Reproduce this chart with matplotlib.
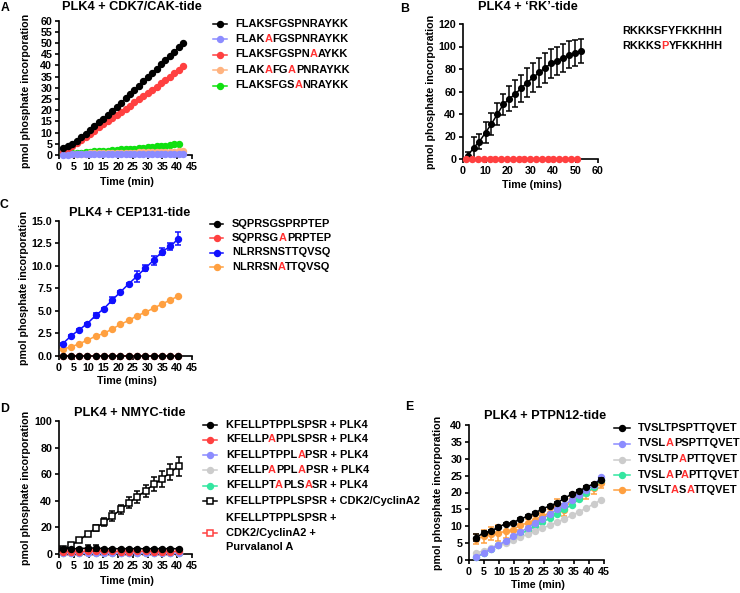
import matplotlib
matplotlib.use("Agg")
import matplotlib.pyplot as plt
from matplotlib.lines import Line2D
from matplotlib.font_manager import FontProperties

plt.rcParams['font.family'] = ['Liberation Sans', 'DejaVu Sans']
plt.rcParams['font.weight'] = 'bold'

W, H = 740, 593
RED_TXT = '#ff3030'
LEG = 7.9    # legend text size
LAB = 7.7    # axis label size
TTL = 9.2    # title size

# ---- Panel A: PLK4 + CDK7/CAK-tide
a_time = [1.5, 3.0, 4.5, 6.0, 7.5, 9.0, 10.5, 12.0, 13.5, 15.0, 16.5, 18.0, 19.5, 21.0,
          22.5, 24.0, 25.5, 27.0, 28.5, 30.0, 31.5, 33.0, 34.5, 36.0, 37.5, 39.0, 40.5, 42.0]
a_wt = [3.0, 3.8, 5.0, 6.4, 7.9, 9.5, 11.2, 12.9, 14.6, 16.3, 18.0, 19.7, 21.5, 23.4,
        25.3, 27.2, 29.1, 31.0, 32.9, 34.8, 36.7, 38.6, 40.5, 42.4, 44.3, 46.2, 48.1, 50.0]
a_s5a = [0.2, 0.2, 0.3, 0.3, 0.3, 0.3, 0.3, 0.4, 0.4, 0.4, 0.4, 0.4, 0.4, 0.4,
         0.5, 0.5, 0.5, 0.5, 0.5, 0.5, 0.5, 0.5, 0.5, 0.6, 0.6, 0.6, 0.6, 0.6]
a_r11a = [1.5, 2.6, 3.9, 5.3, 6.7, 8.1, 9.5, 10.9, 12.3, 13.7, 15.1, 16.5, 17.9, 19.3,
          20.7, 22.1, 23.5, 24.9, 26.3, 27.7, 29.1, 30.5, 32.0, 33.5, 35.0, 36.5, 38.0, 39.6]
a_s5a_s8a = [0.3, 0.4, 0.5, 0.5, 0.6, 0.6, 0.7, 0.7, 0.8, 0.8, 0.9, 0.9, 1.0, 1.0,
             1.0, 1.1, 1.1, 1.2, 1.2, 1.2, 1.3, 1.3, 1.4, 1.4, 1.5, 1.5, 1.6, 1.6]
a_p9a = [0.4, 0.6, 0.8, 1.0, 1.1, 1.3, 1.4, 1.6, 1.7, 1.9, 2.0, 2.2, 2.3, 2.5,
         2.6, 2.8, 2.9, 3.1, 3.3, 3.4, 3.6, 3.8, 4.0, 4.2, 4.4, 4.7, 5.0]
a_labels = ['FLAKSFGSPNRAYKK', 'FLAKAFGSPNRAYKK', 'FLAKSFGSPNAAYKK', 'FLAKAFGAPNRAYKK', 'FLAKSFGSANRAYKK']
a_red = [[], [4], [10], [4, 7], [8]]
a_colors = ['black', '#8c8cff', '#ff4040', '#ffb380', '#10e010']

# ---- Panel B: PLK4 + 'RK'-tide
b_time = [2.0, 4.7, 7.3, 10.0, 12.6, 15.3, 17.9, 20.6, 23.3, 25.9,
          28.6, 31.2, 33.9, 36.5, 39.2, 41.8, 44.5, 47.2, 49.8, 52.5]
b_wt = [2.5, 10.0, 15.5, 23.5, 31.0, 40.0, 48.5, 53.5, 58.0, 63.0,
        68.0, 72.5, 77.0, 81.0, 85.0, 87.5, 90.0, 92.5, 94.0, 96.0]
b_wt_err = [3.5, 10.0, 7.0, 9.0, 9.5, 10.0, 9.5, 11.0, 12.0, 12.0,
            12.5, 13.0, 13.0, 13.0, 13.0, 12.5, 12.5, 12.0, 11.5, 11.0]
b_mut_time = [1.5, 4.1, 6.7, 9.2, 11.8, 14.4, 17.0, 19.6, 22.1, 24.7,
              27.3, 29.9, 32.5, 35.0, 37.6, 40.2, 42.8, 45.4, 47.9, 50.5]
b_mut = [0.0, 0.0, 0.0, 0.0, 0.0, 0.0, 0.0, 0.0, 0.0, 0.0,
         0.0, 0.0, 0.0, 0.0, 0.0, 0.0, 0.0, 0.0, 0.0, 0.0]
b_labels = ['RKKKSFYFKKHHH', 'RKKKSPYFKKHHH']
b_red = [[], [5]]

# ---- Panel C: PLK4 + CEP131-tide
c_time = [1.2, 4.0, 6.8, 9.6, 12.4, 15.2, 18.0, 20.8, 23.6, 26.4, 29.2, 32.0, 34.8, 37.6, 40.4]
c_s1 = [0.0, 0.0, 0.0, 0.0, 0.0, 0.0, 0.0, 0.0, 0.0, 0.0, 0.0, 0.0, 0.0, 0.0, 0.0]
c_s1_mut = [0.0, 0.0, 0.0, 0.0, 0.0, 0.0, 0.0, 0.0, 0.0, 0.0, 0.0, 0.0, 0.0, 0.0, 0.0]
c_s2 = [1.35, 2.2, 2.9, 3.6, 4.5, 5.25, 6.2, 7.1, 8.0, 8.85, 9.75, 10.6, 11.55, 12.15, 13.0]
c_s2_err = [0.1, 0.1, 0.1, 0.1, 0.3, 0.1, 0.3, 0.1, 0.1, 0.6, 0.35, 0.5, 0.4, 0.4, 0.7]
c_s2_mut = [0.75, 1.0, 1.35, 1.75, 2.2, 2.5, 3.0, 3.5, 3.95, 4.45, 4.85, 5.3, 5.75, 6.2, 6.65]
c_labels = ['SQPRSGSPRPTEP', 'SQPRSGAPRPTEP', 'NLRRSNSTTQVSQ', 'NLRRSNATTQVSQ']
c_red = [[], [6], [], [6]]
c_colors = ['black', '#ff4040', '#1010ff', '#ffa040']

# ---- Panel D: PLK4 + NMYC-tide
d_time = [1.3, 4.1, 6.9, 9.7, 12.5, 15.3, 18.1, 20.9, 23.7, 26.5, 29.3, 32.1, 34.9, 37.7, 40.5]
d_wt = [4.0, 4.0, 4.0, 4.5, 4.5, 4.0, 4.0, 4.0, 4.0, 4.0, 4.0, 4.0, 4.0, 4.0, 4.0]
d_wt_err = [0.5, 0.5, 0.5, 2.0, 2.0, 0.5, 0.5, 0.5, 0.5, 0.5, 0.5, 0.5, 0.5, 0.5, 0.5]
d_t7a = [1.5, 1.8, 1.8, 2.0, 2.0, 2.0, 2.0, 1.8, 1.8, 2.0, 2.0, 1.8, 1.8, 1.8, 2.0]
d_s11a = [0.4, 0.5, 0.5, 0.5, 0.5, 0.5, 0.5, 0.5, 0.5, 0.5, 0.5, 0.5, 0.5, 0.5, 0.5]
d_t7a_s11a = [0.9, 1.0, 1.0, 1.0, 1.0, 1.0, 1.0, 1.0, 1.0, 1.0, 1.0, 1.0, 1.0, 1.0, 1.0]
d_p8a_p12a = [0.8, 0.9, 0.9, 1.0, 1.0, 1.0, 1.0, 1.0, 1.0, 1.0, 1.0, 1.0, 1.0, 1.0, 1.0]
d_cdk2 = [3.5, 6.5, 10.5, 15.0, 19.5, 24.0, 28.5, 33.5, 38.5, 43.0, 47.5, 52.5, 56.5, 61.5, 66.0]
d_cdk2_err = [1.0, 1.5, 1.5, 1.5, 2.0, 3.0, 3.5, 3.5, 4.0, 4.5, 4.5, 5.5, 6.0, 6.0, 7.0]
d_purv = [1.2, 1.3, 1.3, 1.4, 1.4, 1.4, 1.4, 1.4, 1.4, 1.4, 1.4, 1.4, 1.4, 1.4, 1.4]
d_labels = ['KFELLPTPPLSPSR + PLK4', 'KFELLPAPPLSPSR + PLK4', 'KFELLPTPPLAPSR + PLK4',
            'KFELLPAPPLAPSR + PLK4', 'KFELLPTAPLSASR + PLK4', 'KFELLPTPPLSPSR + CDK2/CyclinA2']
d_red = [[], [6], [10], [6, 10], [7, 11], []]
d_last_label = ['KFELLPTPPLSPSR +', 'CDK2/CyclinA2 +', 'Purvalanol A']
d_colors = ['black', '#ff4040', '#8c8cff', '#cccccc', '#33e6a0', 'black', '#ff4040']

# ---- Panel E: PLK4 + PTPN12-tide
e_time = [2.4, 4.85, 7.3, 9.75, 12.2, 14.65, 17.1, 19.55, 22.0,
          24.45, 26.9, 29.35, 31.8, 34.25, 36.7, 39.15, 41.6, 44.05]
e_wt = [6.6, 8.1, 8.6, 9.7, 10.8, 11.1, 12.1, 13.0, 13.9,
        15.2, 16.0, 16.9, 18.3, 19.5, 20.4, 21.7, 22.5, 23.8]
e_wt_err = [1.0, 0.5, 0.4, 0.4, 0.3, 0.3, 0.3, 0.3, 0.3,
            0.3, 0.3, 0.3, 0.3, 0.3, 0.3, 0.3, 0.4, 0.5]
e_t5a = [0.8, 2.0, 3.3, 4.5, 5.6, 7.0, 8.2, 9.6, 11.0,
         12.2, 13.6, 15.0, 16.4, 17.8, 19.2, 20.6, 22.3, 24.5]
e_s7a = [2.0, 2.8, 3.5, 4.3, 5.0, 5.8, 6.7, 7.6, 8.5,
         9.4, 10.3, 11.2, 12.2, 13.2, 14.3, 15.4, 16.6, 17.8]
e_t5a_s7a = [0.9, 2.0, 3.2, 4.3, 5.4, 6.6, 7.7, 8.8, 10.0,
             11.2, 12.4, 13.6, 15.0, 16.4, 18.0, 19.8, 21.6, 23.8]
e_p6a_p8a = [6.3, 7.0, 7.8, 8.0, 8.5, 9.0, 10.3, 11.0, 12.0,
             13.0, 14.0, 16.5, 14.8, 18.2, 18.5, 20.0, 21.2, 22.7]
e_p6a_p8a_err = [1.5, 2.0, 2.0, 2.5, 2.0, 2.0, 1.5, 1.2, 1.0,
                 1.0, 1.0, 1.5, 1.8, 1.0, 1.0, 1.8, 1.5, 1.5]
e_labels = ['TVSLTPSPTTQVET', 'TVSLAPSPTTQVET', 'TVSLTPAPTTQVET', 'TVSLAPAPTTQVET', 'TVSLTASATTQVET']
e_red = [[], [4], [6], [4, 6], [5, 7]]
e_colors = ['black', '#8c8cff', '#cccccc', '#33e6a0', '#ffa040']

fig = plt.figure(figsize=(7.4, 5.93), dpi=100)
renderer = fig.canvas.get_renderer()


def px_axes(left, top, right, bottom):
    # box given in image pixels (origin top-left)
    return fig.add_axes([left / W, 1 - bottom / H, (right - left) / W, (bottom - top) / H])


def style(ax, xmax, xstep, ymax, ystep, yfmt=None):
    ax.set_xlim(0, xmax)
    ax.set_ylim(0, ymax)
    ax.set_xticks(range(0, xmax + 1, xstep))
    yt = [i * ystep for i in range(int(round(ymax / ystep)) + 1)]
    ax.set_yticks(yt)
    if yfmt:
        ax.set_yticklabels([yfmt.format(v) for v in yt])
    for s in ['top', 'right']:
        ax.spines[s].set_visible(False)
    for s in ['left', 'bottom']:
        ax.spines[s].set_linewidth(1.2)
    ax.tick_params(direction='out', length=3, width=1.2, labelsize=7.7, pad=1.8)
    for lab in ax.get_xticklabels() + ax.get_yticklabels():
        lab.set_fontweight('bold')


def series(ax, t, v, color, z, err=None, marker='o', mfc=None, ms=4.2):
    if err is not None:
        ax.errorbar(t, v, yerr=err, fmt='none', ecolor=color, elinewidth=1.1,
                    capsize=2.2, capthick=1.1, zorder=z, clip_on=False)
    ax.plot(t, v, '-', color=color, lw=1.1, marker=marker, ms=ms,
            mfc=color if mfc is None else mfc, mec=color, mew=1.1, zorder=z, clip_on=False)


def ftext(x, y, s, size=LAB, **kw):
    return fig.text(x / W, 1 - y / H, s, fontsize=size, fontweight='bold', **kw)


def text_w(s, size):
    fp = FontProperties(family=['Liberation Sans', 'DejaVu Sans'], weight='bold', size=size)
    return renderer.get_text_width_height_descent(s, fp, ismath=False)[0]


def rich_text(x, y, label, reds, size=LEG):
    # label with red letters at given indices, baseline at image y
    bounds = [0]
    for i in range(len(label)):
        if i in reds or (i - 1) in reds:
            if i not in bounds:
                bounds.append(i)
    bounds.append(len(label))
    for a, b in zip(bounds[:-1], bounds[1:]):
        piece = label[a:b]
        color = RED_TXT if a in reds else 'black'
        # align the piece's right edge to where it sits in the full string
        px = x + text_w(label[:b], size) - text_w(piece, size)
        ftext(px, y, piece, size=size, color=color, ha='left', va='baseline')


def handle(x0, x1, y, color, marker='o', mfc=None):
    yy = 1 - y / H
    fig.add_artist(Line2D([x0 / W, x1 / W], [yy, yy], color=color, lw=1.1, transform=fig.transFigure))
    fig.add_artist(Line2D([(x0 + x1) / 2 / W], [yy], marker=marker, ms=4.2, color=color,
                          mfc=color if mfc is None else mfc, mew=1.1, transform=fig.transFigure))


# ---------- A
ax = px_axes(59, 20.7, 192, 155)
style(ax, 45, 5, 60, 5)
a_series = [a_wt, a_s5a, a_r11a, a_s5a_s8a, a_p9a]
for k, (vals, col) in enumerate(zip(a_series, a_colors)):
    series(ax, a_time[:len(vals)], vals, col, 10 - k)
ftext(132, 10, 'PLK4 + CDK7/CAK-tide', size=TTL, ha='center', va='baseline')
ftext(1, 11, 'A', size=8.8, ha='left', va='baseline')
ftext(26, 91, 'pmol phosphate incorporation', rotation=90, ha='center', va='center')
ftext(127, 182, 'Time (min)', ha='center', va='center')
for k, y in enumerate([24, 39.2, 54.5, 70, 85.5]):
    handle(213, 227, y, a_colors[k])
    rich_text(235, y + 2.9, a_labels[k], a_red[k])

# ---------- B
ax = px_axes(463, 24, 598, 159)
style(ax, 60, 10, 120, 20)
series(ax, b_time, b_wt, 'black', 5, err=b_wt_err, ms=4)
series(ax, b_mut_time, b_mut, '#ff4040', 6)
ftext(528, 10, 'PLK4 + \u2018RK\u2019-tide', size=TTL, ha='center', va='baseline')
ftext(400.5, 12.5, 'B', size=8.8, ha='left', va='baseline')
ftext(430.5, 91.5, 'pmol phosphate incorporation', rotation=90, ha='center', va='center')
ftext(531.5, 185, 'Time (mins)', ha='center', va='center')
for k, y in enumerate([30.7, 45.7]):
    rich_text(622, y + 2.9, b_labels[k], b_red[k])

# ---------- C
ax = px_axes(59, 220.7, 192, 356)
style(ax, 45, 5, 15, 2.5, yfmt='{:.1f}')
c_series = [(c_s1, None), (c_s1_mut, None), (c_s2, c_s2_err), (c_s2_mut, None)]
for k, ((vals, err), col) in enumerate(zip(c_series, c_colors)):
    series(ax, c_time, vals, col, 10 - k, err=err)
ftext(130, 216, 'PLK4 + CEP131-tide', size=TTL, ha='center', va='baseline')
ftext(0, 208, 'C', size=8.8, ha='left', va='baseline')
ftext(24.5, 288, 'pmol phosphate incorporation', rotation=90, ha='center', va='center')
ftext(126.7, 381.5, 'Time (mins)', ha='center', va='center')
for k, y in enumerate([223.7, 238, 252.5, 267]):
    handle(210, 223, y, c_colors[k])
    rich_text(232, y + 2.9, c_labels[k], c_red[k])

# ---------- D
ax = px_axes(59, 421, 192, 554)
style(ax, 45, 5, 100, 20)
d_series = [(d_wt, d_wt_err, 'o', None), (d_t7a, None, 'o', None), (d_s11a, None, 'o', None),
            (d_t7a_s11a, None, 'o', None), (d_p8a_p12a, None, 'o', None),
            (d_cdk2, d_cdk2_err, 's', 'white'), (d_purv, None, 's', 'white')]
for k, ((vals, err, mk, mfc), col) in enumerate(zip(d_series, d_colors)):
    series(ax, d_time, vals, col, 10 - k if k < 5 else 4 - k, err=err, marker=mk, mfc=mfc,
           ms=4.2 if mk == 'o' else 4.8)
ftext(129.5, 416.5, 'PLK4 + NMYC-tide', size=TTL, ha='center', va='baseline')
ftext(0, 412, 'D', size=8.8, ha='left', va='baseline')
ftext(26.5, 487.5, 'pmol phosphate incorporation', rotation=90, ha='center', va='center')
ftext(126.7, 581, 'Time (min)', ha='center', va='center')
for k, y in enumerate([425, 439.5, 454.7, 470, 485.5, 500.7]):
    mk = 's' if k == 5 else 'o'
    handle(203, 217, y, d_colors[k], marker=mk, mfc='white' if k == 5 else None)
    rich_text(226, y + 2.9, d_labels[k], d_red[k])
handle(203, 217, 532.7, d_colors[6], marker='s', mfc='white')
for j, y in enumerate([518, 532.7, 547]):
    rich_text(226, y + 2.9, d_last_label[j], [])

# ---------- E
ax = px_axes(469, 425, 604, 560)
style(ax, 45, 5, 40, 5)
e_series = [(e_wt, e_wt_err), (e_t5a, None), (e_s7a, None), (e_t5a_s7a, None), (e_p6a_p8a, e_p6a_p8a_err)]
for k, ((vals, err), col) in enumerate(zip(e_series, e_colors)):
    series(ax, e_time, vals, col, 10 - k, err=err)
ftext(545, 419, 'PLK4 + PTPN12-tide', size=TTL, ha='center', va='baseline')
ftext(405, 410.5, 'E', size=8.8, ha='left', va='baseline')
ftext(437.7, 492.5, 'pmol phosphate incorporation', rotation=90, ha='center', va='center')
ftext(537.5, 585, 'Time (min)', ha='center', va='center')
for k, y in enumerate([428, 443.5, 459.5, 474.7, 490]):
    handle(614, 630, y, e_colors[k])
    rich_text(638, y + 2.9, e_labels[k], e_red[k])

fig.savefig('out.png', dpi=100)
